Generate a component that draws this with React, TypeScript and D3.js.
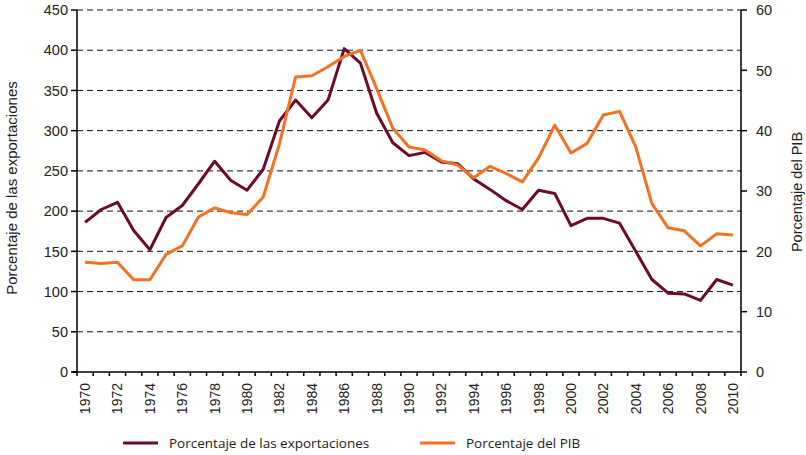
import * as d3 from "d3";

// years 1970..2010
const years = d3.range(1970, 2011).map(String);

// Porcentaje de las exportaciones (left axis)
const exportPct = [
  186, 202, 211, 176, 152, 192, 207, 234, 262, 238,
  226, 252, 312, 338, 316, 338, 402, 384, 322, 285,
  269, 273, 261, 259, 240, 227, 213, 202, 226, 222,
  182, 191, 191, 185, 150, 115, 98, 97, 89, 115,
  108,
];

// Porcentaje del PIB (right axis)
const gdpPct = [
  18.2, 18.0, 18.2, 15.3, 15.3, 19.5, 20.9, 25.7, 27.2, 26.4,
  26.1, 29.0, 37.8, 48.9, 49.1, 50.6, 52.3, 53.3, 47.0, 40.4,
  37.3, 36.8, 35.0, 34.3, 32.2, 34.1, 32.9, 31.5, 35.5, 40.9,
  36.3, 37.9, 42.6, 43.2, 37.3, 27.9, 23.9, 23.4, 20.9, 22.9,
  22.7,
];

const leftTicks = d3.range(0, 451, 50);
const rightTicks = d3.range(0, 61, 10);

const seriesNames = ["Porcentaje de las exportaciones", "Porcentaje del PIB"];
const colors = ["#6d0b25", "#f37121"];

const W = 806;
const H = 455;
const m = { left: 77, right: 741, top: 10, bottom: 372 };

export default function App() {
  const x = d3.scaleBand().domain(years).range([m.left, m.right]);
  const yL = d3.scaleLinear().domain([0, 450]).range([m.bottom, m.top]);
  const yR = d3.scaleLinear().domain([0, 60]).range([m.bottom, m.top]);
  const cx = (i: number) => (x(years[i]) as number) + x.bandwidth() / 2;

  const lineL = d3.line<number>().x((_, i) => cx(i)).y((d) => yL(d));
  const lineR = d3.line<number>().x((_, i) => cx(i)).y((d) => yR(d));

  const boundaries = years.map((y) => x(y) as number).concat([m.right]);
  const font = "'Liberation Sans', Arial, sans-serif";

  return (
    <svg
      width={W}
      height={H}
      style={{ position: "absolute", left: 0, top: 0, background: "#fff" }}
    >
      {/* gridlines */}
      {leftTicks.slice(1).map((t) => (
        <line
          key={"g" + t}
          x1={m.left}
          x2={m.right}
          y1={yL(t)}
          y2={yL(t)}
          stroke="#111"
          strokeWidth={1}
          strokeDasharray="6,4"
        />
      ))}

      {/* left axis */}
      <line x1={m.left} x2={m.left} y1={m.top} y2={m.bottom} stroke="#000" strokeWidth={1.5} />
      {leftTicks.map((t) => (
        <g key={"l" + t}>
          <line x1={m.left - 6} x2={m.left} y1={yL(t)} y2={yL(t)} stroke="#000" strokeWidth={1.5} />
          <text x={m.left - 9} y={yL(t)} dy="0.36em" textAnchor="end" fontFamily={font} fontSize={14.5} fill="#222">
            {t}
          </text>
        </g>
      ))}

      {/* right axis */}
      <line x1={m.right} x2={m.right} y1={m.top} y2={m.bottom} stroke="#000" strokeWidth={1.5} />
      {rightTicks.map((t) => (
        <g key={"r" + t}>
          <line x1={m.right} x2={m.right + 6} y1={yR(t)} y2={yR(t)} stroke="#000" strokeWidth={1.5} />
          <text x={m.right + 15} y={yR(t)} dy="0.36em" textAnchor="start" fontFamily={font} fontSize={14.5} fill="#222">
            {t}
          </text>
        </g>
      ))}

      {/* x axis */}
      <line x1={m.left - 5} x2={m.right} y1={m.bottom} y2={m.bottom} stroke="#000" strokeWidth={1.5} />
      {boundaries.map((b, i) => (
        <line key={"xt" + i} x1={b} x2={b} y1={m.bottom} y2={m.bottom + 4} stroke="#000" strokeWidth={1.5} />
      ))}
      {years.map((yr, i) =>
        i % 2 === 0 ? (
          <text
            key={"xl" + yr}
            transform={`translate(${cx(i) + 5},${m.bottom + 11}) rotate(-90)`}
            textAnchor="end"
            fontFamily={font}
            fontSize={14}
            fill="#222"
          >
            {yr}
          </text>
        ) : null
      )}

      {/* axis titles */}
      <text
        transform={`translate(17,188) rotate(-90)`}
        textAnchor="middle"
        fontFamily={font}
        fontSize={15}
        fill="#222"
      >
        Porcentaje de las exportaciones
      </text>
      <text
        transform={`translate(802,192) rotate(-90)`}
        textAnchor="middle"
        fontFamily={font}
        fontSize={14.5}
        fill="#222"
      >
        Porcentaje del PIB
      </text>

      {/* series */}
      <path d={lineL(exportPct) ?? ""} fill="none" stroke={colors[0]} strokeWidth={3} strokeLinejoin="round" />
      <path d={lineR(gdpPct) ?? ""} fill="none" stroke={colors[1]} strokeWidth={3} strokeLinejoin="round" />

      {/* legend */}
      {seriesNames.map((name, i) => {
        const lx = i === 0 ? 123 : 420;
        return (
          <g key={name}>
            <line x1={lx} x2={lx + 35} y1={443} y2={443} stroke={colors[i]} strokeWidth={3} />
            <text x={lx + 46} y={443} dy="0.35em" fontFamily="'Open Sans', sans-serif" fontSize={13.5} fill="#222">
              {name}
            </text>
          </g>
        );
      })}
    </svg>
  );
}
